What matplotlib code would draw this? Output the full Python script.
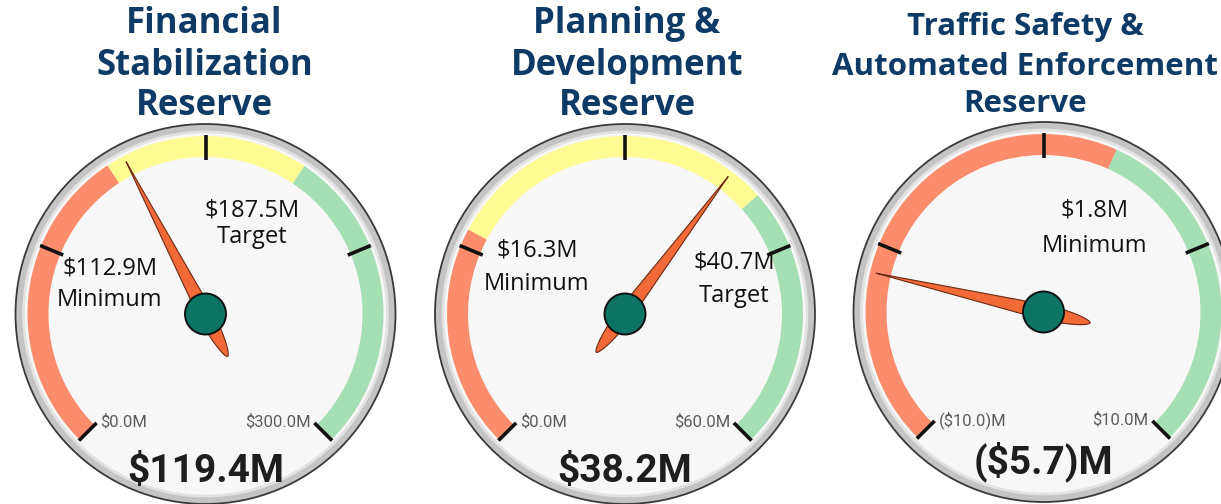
import numpy as np
import matplotlib
matplotlib.use("Agg")
import matplotlib.pyplot as plt
from matplotlib.patches import Circle, Wedge, Polygon

W, H = 1221, 504

# chart data
titles = [["Financial", "Stabilization", "Reserve"],
          ["Planning &", "Development", "Reserve"],
          ["Traffic Safety &", "Automated Enforcement", "Reserve"]]
vmins = [0.0, 0.0, -10.0]
vmaxs = [300.0, 60.0, 10.0]
values = [119.4, 38.2, -5.7]
minimums = [112.9, 16.3, 1.8]
targets = [187.5, 40.7, None]
value_labels = ["$119.4M", "$38.2M", "($5.7)M"]
low_labels = ["$0.0M", "$0.0M", "($10.0)M"]
high_labels = ["$300.0M", "$60.0M", "$10.0M"]
min_labels = ["$112.9M\nMinimum", "$16.3M\nMinimum", "$1.8M\nMinimum"]
target_labels = ["$187.5M\nTarget", "$40.7M\nTarget", None]

# layout (pixels from top-left)
centers = [(205.5, 314), (625, 314), (1043.5, 312)]
title_x = [204.5, 627, 1025]
title_base = [[33, 75, 115], [33, 75, 115], [35, 75, 112]]
title_size = [25, 25, 22.5]
min_pos = [(109.5, 274, 306), (537, 257, 290), (1094, 217, 252)]
tgt_pos = [(252, 217, 243), (734, 268, 302), None]

RED, YEL, GRN = "#fb8c6c", "#fdfc93", "#a6dfb3"
NAVY = "#0e3a66"

fig = plt.figure(figsize=(W / 100, H / 100), dpi=100)
ax = fig.add_axes([0, 0, 1, 1])
ax.set_xlim(0, W)
ax.set_ylim(0, H)
ax.axis("off")


def ang(v, lo, hi):
    return 225 - (v - lo) / (hi - lo) * 270


def txt(x, y, s, **kw):
    ax.text(x, H - y, s, va="baseline", ha="center", **kw)


for i in range(3):
    cx, cy = centers[i][0], H - centers[i][1]
    lo, hi = vmins[i], vmaxs[i]

    ax.add_patch(Circle((cx, cy), 190, fc="#c4c4c4", ec="#3a3a3a", lw=1.3, zorder=1))
    ax.add_patch(Circle((cx, cy), 182, fc="#f7f7f7", ec="#e2e2e2", lw=2, zorder=2))

    # colour bands
    stops = [lo, minimums[i]]
    cols = [RED]
    if targets[i] is not None:
        stops.append(targets[i])
        cols.append(YEL)
    stops.append(hi)
    cols.append(GRN)
    for a, b, c in zip(stops[:-1], stops[1:], cols):
        ax.add_patch(Wedge((cx, cy), 178, ang(b, lo, hi), ang(a, lo, hi),
                           width=21, fc=c, ec="none", zorder=3))

    # major ticks
    for t in np.linspace(lo, hi, 5):
        a = np.radians(ang(t, lo, hi))
        ax.plot([cx + 154 * np.cos(a), cx + 179 * np.cos(a)],
                [cy + 154 * np.sin(a), cy + 179 * np.sin(a)],
                color="#111111", lw=2.6, solid_capstyle="butt", zorder=4)

    # tick end labels
    ax.text(cx - 105, cy - 113, low_labels[i], ha="left", va="baseline",
            fontsize=12, color="#5c5c5c", family="Roboto", zorder=5)
    ax.text(cx + 105, cy - 113, high_labels[i], ha="right", va="baseline",
            fontsize=12, color="#5c5c5c", family="Roboto", zorder=5)

    # annotations
    mx, my1, my2 = min_pos[i]
    l1, l2 = min_labels[i].split("\n")
    txt(mx, my1, l1, fontsize=17, family="Open Sans", color="#111111", zorder=6)
    txt(mx, my2, l2, fontsize=17, family="Open Sans", color="#111111", zorder=6)
    if tgt_pos[i] is not None:
        tx, ty1, ty2 = tgt_pos[i]
        l1, l2 = target_labels[i].split("\n")
        txt(tx, ty1, l1, fontsize=17, family="Open Sans", color="#111111", zorder=6)
        txt(tx, ty2, l2, fontsize=17, family="Open Sans", color="#111111", zorder=6)

    # needle
    a = np.radians(ang(values[i], lo, hi))
    s = np.linspace(-48, 172, 240)
    w = np.where(s >= 0, 7.5 * (1 - s / 172),
                 7.5 * np.clip(1 - (s / 48) ** 2, 0, 1) ** 0.6)
    ux, uy = np.cos(a), np.sin(a)
    nx, ny = -uy, ux
    up = np.column_stack([cx + s * ux + w * nx, cy + s * uy + w * ny])
    dn = np.column_stack([cx + s * ux - w * nx, cy + s * uy - w * ny])[::-1]
    ax.add_patch(Polygon(np.vstack([up, dn]), closed=True, fc="#f26a37",
                         ec="#6b2a14", lw=0.8, zorder=7))
    ax.add_patch(Circle((cx, cy), 20.5, fc="#0b7463", ec="#111111", lw=1.4, zorder=8))

    # value
    vy = 482 if i < 2 else 473
    txt(cx, vy, value_labels[i], fontsize=28, family="Roboto", weight="bold",
        color="#1e1e1e", zorder=9)

    # title
    for line, yb in zip(titles[i], title_base[i]):
        txt(title_x[i], yb, line, fontsize=title_size[i], family="Open Sans",
            weight="bold", color=NAVY, zorder=9)

fig.savefig("out.png", dpi=100, facecolor="white")
